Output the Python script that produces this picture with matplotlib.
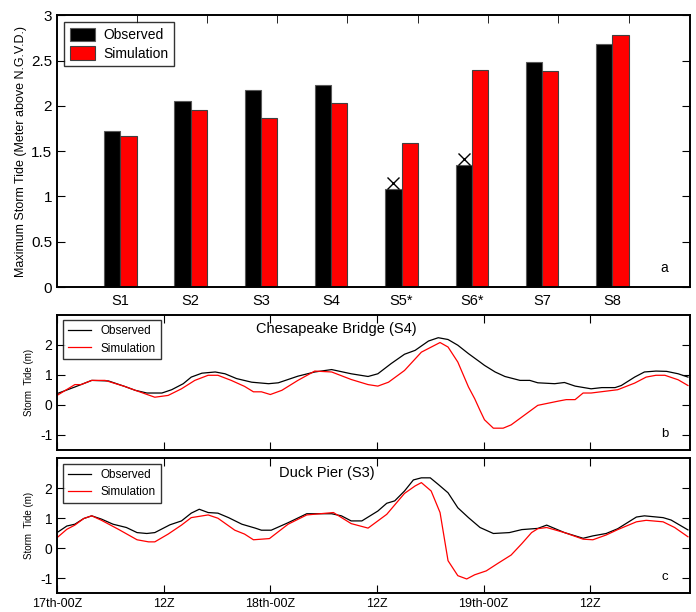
import numpy as np
import matplotlib
matplotlib.use('Agg')
import matplotlib.pyplot as plt

plt.rcParams['font.family'] = ['Liberation Sans', 'DejaVu Sans']

# --- panel a: maximum storm tide per station
stations = ['S1', 'S2', 'S3', 'S4', 'S5*', 'S6*', 'S7', 'S8']
observed_max = [1.72, 2.05, 2.18, 2.23, 1.08, 1.35, 2.48, 2.68]
simulated_max = [1.67, 1.95, 1.87, 2.03, 1.59, 2.40, 2.39, 2.78]
cross_idx = [4, 5]
cross_val = [1.15, 1.41]

# --- panel b: Chesapeake Bridge (S4), hours from 17th-00Z
b_obs_t = [0, 2.0, 3.9, 5.8, 7.6, 8.8, 10.1, 11.8, 12.9, 14.2, 15.1, 16.3, 17.8, 18.9, 20.2, 21.9,
           23.8, 24.9, 27.1, 29.0, 30.9, 33.1, 35.0, 36.1, 37.6, 39.1, 40.3, 41.8, 42.9, 44.0, 45.1,
           46.3, 47.6, 48.1, 49.3, 50.4, 52.1, 53.2, 54.1, 56.0, 57.1, 58.3, 60.1, 61.3, 62.8, 63.5,
           65.0, 66.1, 67.4, 68.6, 69.9, 71.0]
b_obs_v = [0.37, 0.59, 0.81, 0.79, 0.61, 0.48, 0.39, 0.39, 0.50, 0.70, 0.92, 1.05, 1.09, 1.03, 0.87, 0.75,
           0.70, 0.73, 0.95, 1.09, 1.17, 1.03, 0.94, 1.03, 1.37, 1.68, 1.81, 2.12, 2.23, 2.17, 1.98,
           1.70, 1.42, 1.31, 1.09, 0.94, 0.81, 0.81, 0.73, 0.70, 0.74, 0.62, 0.53, 0.57, 0.57, 0.64,
           0.92, 1.09, 1.12, 1.11, 1.03, 0.92]
b_sim_t = [0, 2.0, 2.7, 3.9, 5.4, 7.6, 8.8, 11.0, 12.5, 14.0, 15.5, 17.0, 18.1, 19.6, 21.1, 22.1, 23.0,
           24.0, 25.3, 27.1, 29.0, 30.9, 33.1, 35.0, 36.1, 37.3, 39.1, 41.0, 43.1, 44.0, 45.1, 46.3,
           47.0, 47.6, 48.1, 49.1, 50.2, 51.1, 52.3, 54.1, 56.4, 57.3, 58.3, 59.2, 60.1, 63.1, 65.0,
           66.3, 67.4, 68.4, 69.9, 71.0]
b_sim_v = [0.31, 0.67, 0.67, 0.81, 0.81, 0.61, 0.48, 0.25, 0.31, 0.53, 0.81, 0.98, 0.98, 0.81, 0.61, 0.43, 0.43,
           0.34, 0.48, 0.81, 1.12, 1.09, 0.84, 0.67, 0.62, 0.75, 1.14, 1.75, 2.07, 1.92, 1.42, 0.59,
           0.20, -0.19, -0.50, -0.78, -0.78, -0.67, -0.41, -0.02, 0.12, 0.17, 0.17, 0.39, 0.39, 0.50, 0.72,
           0.92, 0.98, 0.98, 0.83, 0.64]

# --- panel c: Duck Pier (S3)
c_obs_t = [0, 1.1, 2.0, 3.0, 3.9, 5.0, 6.3, 7.8, 9.0, 10.1, 11.0, 12.7, 14.0, 15.1, 16.0, 17.0, 18.1,
           19.3, 20.8, 22.3, 23.0, 24.1, 26.0, 28.1, 30.9, 32.0, 33.1, 34.3, 36.1, 37.1, 38.0, 39.1,
           40.1, 41.0, 42.0, 42.9, 44.0, 45.1, 46.3, 47.6, 49.1, 50.9, 52.3, 54.1, 55.1, 57.1, 59.2,
           60.3, 61.8, 63.1, 65.2, 66.1, 68.2, 69.1, 71.0]
c_obs_v = [0.52, 0.74, 0.80, 0.99, 1.08, 0.97, 0.80, 0.69, 0.52, 0.49, 0.52, 0.78, 0.91, 1.17, 1.30, 1.19, 1.17,
           1.02, 0.80, 0.67, 0.60, 0.60, 0.85, 1.15, 1.15, 1.08, 0.91, 0.91, 1.24, 1.50, 1.58, 1.91,
           2.28, 2.35, 2.35, 2.13, 1.85, 1.35, 1.02, 0.69, 0.49, 0.52, 0.62, 0.66, 0.77, 0.52, 0.33,
           0.41, 0.49, 0.65, 1.04, 1.08, 1.02, 0.94, 0.61]
c_sim_t = [0, 1.1, 2.0, 3.0, 3.9, 5.0, 6.9, 9.0, 10.3, 11.0, 12.5, 14.0, 15.1, 17.0, 18.1, 20.0, 21.1,
           22.1, 23.9, 26.0, 28.1, 31.1, 33.1, 35.0, 37.1, 39.1, 40.3, 41.0, 42.1, 43.1, 44.0, 45.1,
           46.1, 47.0, 48.3, 49.6, 51.1, 52.3, 53.4, 54.1, 55.1, 57.1, 59.2, 60.3, 61.8, 63.1, 65.2,
           66.3, 68.2, 69.5, 71.0]
c_sim_v = [0.35, 0.63, 0.77, 0.99, 1.08, 0.93, 0.63, 0.28, 0.21, 0.21, 0.47, 0.77, 1.02, 1.11, 1.00, 0.60, 0.47,
           0.28, 0.32, 0.80, 1.11, 1.19, 0.82, 0.67, 1.13, 1.83, 2.08, 2.19, 1.91, 1.19, -0.42, -0.92,
           -1.03, -0.89, -0.76, -0.51, -0.23, 0.15, 0.52, 0.65, 0.69, 0.52, 0.30, 0.28, 0.44, 0.62, 0.88,
           0.93, 0.88, 0.69, 0.38]

time_ticks = [0, 12, 24, 36, 48, 60]
time_labels = ['17th-00Z', '12Z', '18th-00Z', '12Z', '19th-00Z', '12Z']

fig = plt.figure(figsize=(6.96, 6.12), dpi=100)
ax_a = fig.add_axes([0.082, 0.531, 0.909, 0.444])
ax_b = fig.add_axes([0.082, 0.265, 0.909, 0.221])
ax_c = fig.add_axes([0.082, 0.031, 0.909, 0.220])

# bar chart
x = np.arange(1, len(stations) + 1)
w = 0.23
ax_a.bar(x - w / 2, observed_max, w, color='black', edgecolor='0.35', linewidth=0.8, label='Observed')
ax_a.bar(x + w / 2, simulated_max, w, color='red', edgecolor='0.25', linewidth=0.8, label='Simulation')
ax_a.plot(x[cross_idx] - w / 2, cross_val, 'x', color='black', markersize=8, markeredgewidth=1.0)
ax_a.set_xlim(0.1, 9.1)
ax_a.set_ylim(0, 3)
ax_a.set_xticks(x)
ax_a.set_xticklabels(stations, fontsize=10.5)
ax_a.set_xticks(x + w, minor=True)
ax_a.tick_params(axis='x', which='major', length=0, pad=5)
ax_a.tick_params(axis='x', which='minor', bottom=False, top=True, direction='in', length=6)
ax_a.set_yticks(np.arange(0, 3.01, 0.5))
ax_a.set_yticklabels(['0', '0.5', '1', '1.5', '2', '2.5', '3'], fontsize=11)
ax_a.tick_params(axis='y', direction='in', left=True, right=True, length=6)
ax_a.set_ylabel('Maximum Storm Tide (Meter above N.G.V.D.)', fontsize=9, labelpad=3)
leg = ax_a.legend(loc='upper left', fontsize=10, frameon=True, fancybox=False, edgecolor='black',
                  handlelength=1.8, handleheight=1.1, borderaxespad=0.5, labelspacing=0.3,
                  handletextpad=0.6)
leg.get_frame().set_linewidth(1.0)
ax_a.text(0.96, 0.07, 'a', transform=ax_a.transAxes, fontsize=10, ha='center', va='center')

# time series panels
for ax, ot, ov, st, sv, title, tx, letter in [
        (ax_b, b_obs_t, b_obs_v, b_sim_t, b_sim_v, 'Chesapeake Bridge (S4)', 0.442, 'b'),
        (ax_c, c_obs_t, c_obs_v, c_sim_t, c_sim_v, 'Duck Pier (S3)', 0.4265, 'c')]:
    ax.plot(ot, ov, color='black', linewidth=0.9, label='Observed')
    ax.plot(st, sv, color='red', linewidth=0.9, label='Simulation')
    ax.set_xlim(0, 71.2)
    ax.set_ylim(-1.5, 3.0)
    ax.set_yticks([-1, 0, 1, 2])
    ax.set_yticklabels(['-1', '0', '1', '2'], fontsize=10)
    ax.set_xticks(time_ticks)
    ax.tick_params(direction='in', left=True, right=True, top=True, bottom=True, length=6)
    ax.set_ylabel('Storm  Tide (m)', fontsize=7, labelpad=4)
    leg = ax.legend(loc='upper left', fontsize=8.5, frameon=True, fancybox=False, edgecolor='black',
                    handlelength=2.0, borderaxespad=0.5, labelspacing=0.45, handletextpad=0.8)
    leg.get_frame().set_linewidth(1.0)
    ax.text(tx, 0.895, title, transform=ax.transAxes, fontsize=10.5, ha='center', va='center')
    ax.text(0.96, 0.12, letter, transform=ax.transAxes, fontsize=9.5, ha='center', va='center')

ax_b.set_xticklabels([])
ax_c.set_xticklabels(time_labels, fontsize=9)

for ax in [ax_a, ax_b, ax_c]:
    for s in ax.spines.values():
        s.set_linewidth(1.4)

fig.savefig('out.png', dpi=100)
